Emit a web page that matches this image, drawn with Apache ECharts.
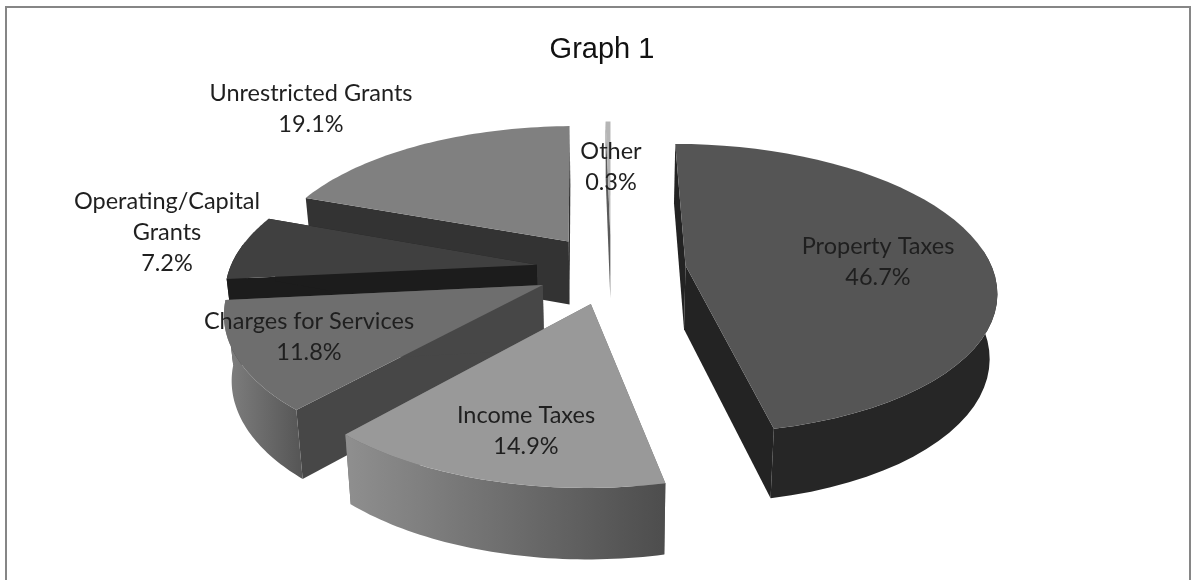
<!DOCTYPE html>
<html>
<head>
<meta charset="utf-8">
<style>
  html, body { margin: 0; padding: 0; background: #fff; }
  #main { width: 1196px; height: 580px; }
</style>
<script src="https://cdn.jsdelivr.net/npm/echarts@6/dist/echarts.min.js"></script>
</head>
<body>
<div id="main"></div>
<script>
var titleText = 'Graph 1';
var categories = ['Property Taxes', 'Income Taxes', 'Charges for Services', 'Operating/Capital\nGrants', 'Unrestricted Grants', 'Other'];
var shares = [46.7, 14.9, 11.8, 7.2, 19.1, 0.3];

// back to front, the slices overlap each other
var drawOrder = [5, 4, 3, 0, 2, 1];

var topColors = ['#555555', '#999999', '#6e6e6e', '#404040', '#808080', '#b5b5b5'];
var cutColors = ['#232323', '#6a6a6a', '#474747', '#1c1c1c', '#333333', '#5a5a5a'];
var wallLeft = ['#262626', '#8f8f8f', '#808080', '#1c1c1c', '#555555', '#777777'];
var wallRight = ['#262626', '#4d4d4d', '#555555', '#1c1c1c', '#555555', '#777777'];

// label centres, Excel best fit is not something we can compute
var labelAt = [[878, 262], [526, 431], [309, 337], [167, 232], [311, 109], [611, 167]];

// projection of the tilted pie
var cx = 611, cy = 269;
var rx = 307, ry = 142;
var explode = 0.245;
var persp = 0.16;
var depth = 64;

var starts = [];
var total = 0;
shares.forEach(function (s) {
  starts.push(total);
  total += s;
});

function project(u, v, bottom) {
  var s = 1 / (1 - persp * v);
  var x = cx + rx * u * s;
  var y = cy + ry * v * s;
  if (bottom) {
    x = cx + (x - cx) * 0.98;
    y = y + depth * Math.sqrt(s);
  }
  return [x, y];
}

function renderSlice(params, api) {
  var idx = api.value(0);
  var a0 = api.value(1) / 100 * Math.PI * 2;
  var a1 = a0 + api.value(2) / 100 * Math.PI * 2;
  var mid = (a0 + a1) / 2;
  var ou = explode * Math.sin(mid);
  var ov = -explode * Math.cos(mid);

  function pt(a, bottom) {
    return project(ou + Math.sin(a), ov - Math.cos(a), bottom);
  }
  var apexT = project(ou, ov, false);
  var apexB = project(ou, ov, true);

  var arcT = [], wallT = [], wallB = [];
  var steps = 48;
  for (var i = 0; i <= steps; i++) {
    var a = a0 + (a1 - a0) * i / steps;
    arcT.push(pt(a, false));
    // only the part of the rim that faces the viewer gets a wall
    if (Math.cos(a) < 0.15) {
      wallT.push(pt(a, false));
      wallB.push(pt(a, true));
    }
  }

  function poly(points, fill) {
    return { type: 'polygon', shape: { points: points }, style: { fill: fill } };
  }

  var wall = {
    type: 'linear', x: 0, y: 0, x2: 1, y2: 0,
    colorStops: [{ offset: 0, color: wallLeft[idx] }, { offset: 1, color: wallRight[idx] }]
  };

  var pos = labelAt[idx];
  var label = {
    type: 'text',
    z2: 100,
    style: {
      x: pos[0], y: pos[1],
      text: categories[idx] + '\n' + api.value(2).toFixed(1) + '%',
      fill: '#1f1f1f',
      font: '23.5px Lato',
      lineHeight: 31,
      align: 'center',
      verticalAlign: 'middle'
    }
  };

  var children = [
    // cut faces first so the outer wall hides the ones turned away from us
    poly([apexT, pt(a0, false), pt(a0, true), apexB], cutColors[idx]),
    poly([apexT, pt(a1, false), pt(a1, true), apexB], cutColors[idx])
  ];
  if (wallT.length > 1) {
    children.push(poly(wallT.concat(wallB.reverse()), wall));
  }
  children.push(poly([apexT].concat(arcT), topColors[idx]));
  children.push(label);

  return { type: 'group', children: children };
}

var rows = drawOrder.map(function (i) {
  return [i, starts[i], shares[i]];
});

var chart = echarts.init(document.getElementById('main'));
chart.setOption({
  animation: false,
  backgroundColor: '#fff',
  title: {
    text: titleText,
    left: 597,
    top: 30,
    textAlign: 'center',
    textStyle: { fontFamily: 'Liberation Sans', fontWeight: 'normal', fontSize: 29, color: '#111' }
  },
  graphic: [{
    type: 'rect',
    silent: true,
    shape: { x: 6, y: 7, width: 1184, height: 640 },
    style: { fill: 'none', stroke: '#868686', lineWidth: 2 }
  }],
  series: [{
    type: 'custom',
    coordinateSystem: 'none',
    renderItem: renderSlice,
    data: rows
  }]
});
</script>
</body>
</html>
